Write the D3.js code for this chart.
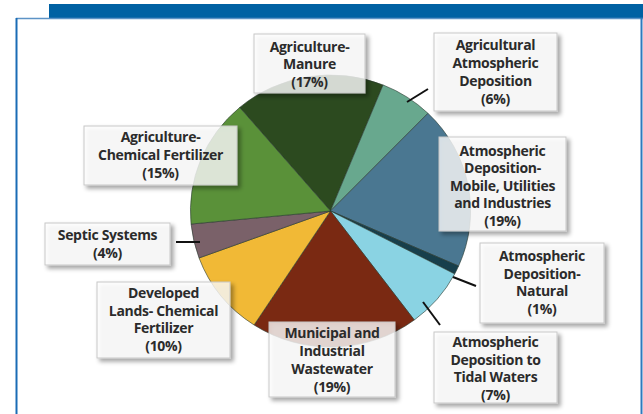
<!DOCTYPE html>
<html><head><meta charset="utf-8">
<script src="https://cdn.jsdelivr.net/npm/d3@7"></script>
<style>html,body{margin:0;padding:0;background:#fff;}svg{display:block;}</style>
</head><body>
<svg id="chart" width="643" height="414"></svg>
<script>
const categories = ["Agriculture-Manure","Agricultural Atmospheric Deposition","Atmospheric Deposition-Mobile, Utilities and Industries","Atmospheric Deposition-Natural","Atmospheric Deposition to Tidal Waters","Municipal and Industrial Wastewater","Developed Lands- Chemical Fertilizer","Septic Systems","Agriculture-Chemical Fertilizer"];
const values = [17, 6, 19, 1, 7, 19, 10, 4, 15];
const colors = ["#2c4a1f","#68a88e","#4a7791","#173f4c","#8ad3e3","#7a2912","#f1b936","#7a6169","#5a9139"];
const labelLines = [
  ["Agriculture-","Manure","(17%)"],
  ["Agricultural","Atmospheric","Deposition","(6%)"],
  ["Atmospheric","Deposition-","Mobile, Utilities","and Industries","(19%)"],
  ["Atmospheric","Deposition-","Natural","(1%)"],
  ["Atmospheric","Deposition to","Tidal Waters","(7%)"],
  ["Municipal and","Industrial","Wastewater","(19%)"],
  ["Developed","Lands- Chemical","Fertilizer","(10%)"],
  ["Septic Systems","(4%)"],
  ["Agriculture-","Chemical Fertilizer","(15%)"]
];
// label box layout [x, y, w, h, firstLineY, lineGap]
const boxes = [
  [254,34,111,59,47,17.5],
  [434,33,123,78,45,18],
  [439,137,127,94,151,17.5],
  [480,243,124,80,256,17.6],
  [434,332,123,71,342,17.7],
  [269,322,126,75,333,18],
  [97,282,133,76,293,17.7],
  [45,223,125,42,235,18],
  [84,126,153,59,137,18]
];
// leader lines [x1,y1,x2,y2]
const leaders = [
  null,
  [407,102,428,89],
  null,
  [453,277,476,286],
  [423,302,440,325],
  null, null,
  [176,242,200,242],
  null
];

const svg = d3.select("#chart");
const defs = svg.append("defs");
const f = defs.append("filter").attr("id","sh").attr("x","-20%").attr("y","-20%").attr("width","150%").attr("height","150%");
f.append("feDropShadow").attr("dx",3).attr("dy",3).attr("stdDeviation",2).attr("flood-color","#000").attr("flood-opacity",0.45);

// frame
svg.append("rect").attr("x",49).attr("y",4).attr("width",594).attr("height",15).attr("fill","#0061a3");
svg.append("line").attr("x1",16).attr("y1",18.5).attr("x2",643).attr("y2",18.5).attr("stroke","#5d93c6").attr("stroke-width",1.5);
svg.append("line").attr("x1",16.5).attr("y1",18).attr("x2",16.5).attr("y2",414).attr("stroke","#1a6cb5").attr("stroke-width",2);
svg.append("line").attr("x1",641.5).attr("y1",18).attr("x2",641.5).attr("y2",414).attr("stroke","#2f79bd").attr("stroke-width",2);

const cx = 330.5, cy = 211, r = 136;
const pie = d3.pie().sort(null).value(d => d).startAngle(-40.4*Math.PI/180).endAngle(-40.4*Math.PI/180 + 2*Math.PI);
const arc = d3.arc().innerRadius(0).outerRadius(r);
const g = svg.append("g").attr("transform",`translate(${cx},${cy}) scale(1.03,1)`);
g.selectAll("path").data(pie(values)).join("path")
  .attr("d",arc).attr("fill",(d,i)=>colors[i]).attr("stroke","#2a3a30").attr("stroke-width",0.6);

// leaders
svg.selectAll("line.lead").data(leaders.filter(d=>d)).join("line").attr("class","lead")
  .attr("x1",d=>d[0]).attr("y1",d=>d[1]).attr("x2",d=>d[2]).attr("y2",d=>d[3])
  .attr("stroke","#111").attr("stroke-width",2);

// labels
const lg = svg.selectAll("g.lab").data(categories).join("g").attr("class","lab");
lg.append("rect")
  .attr("x",(d,i)=>boxes[i][0]).attr("y",(d,i)=>boxes[i][1])
  .attr("width",(d,i)=>boxes[i][2]).attr("height",(d,i)=>boxes[i][3])
  .attr("fill","#fff").attr("fill-opacity",0.76).attr("stroke","#c8c8c8").attr("stroke-width",1)
  .attr("filter","url(#sh)");
lg.each(function(d,i){
  const b = boxes[i];
  const t = d3.select(this).append("text").attr("text-anchor","middle")
    .attr("font-family","'Open Sans', sans-serif").attr("font-weight",700).attr("font-size",14)
    .attr("letter-spacing","-0.3px")
    .attr("fill","#2b2b2b");
  labelLines[i].forEach((ln,j)=>{
    t.append("tspan").attr("x",b[0]+b[2]/2).attr("y",b[4]+j*b[5]).attr("dy","0.35em").text(ln);
  });
});
</script>
</body></html>
